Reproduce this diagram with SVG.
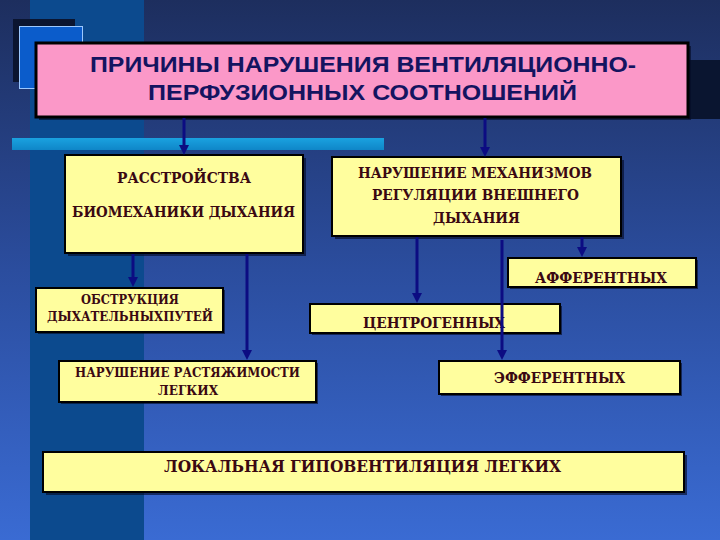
<svg xmlns="http://www.w3.org/2000/svg" width="720" height="540" viewBox="0 0 720 540">
<defs>
<linearGradient id="bg" x1="0" y1="0" x2="0" y2="1">
<stop offset="0" stop-color="#1d2e5e"/>
<stop offset="0.5" stop-color="#2b4d9e"/>
<stop offset="1" stop-color="#3a6bd3"/>
</linearGradient>
<linearGradient id="bar" x1="0" y1="0" x2="0" y2="1">
<stop offset="0" stop-color="#1aa2e0"/>
<stop offset="1" stop-color="#0f86c8"/>
</linearGradient>
<marker id="ah" viewBox="0 0 10 10" refX="2" refY="5" markerWidth="10" markerHeight="10" markerUnits="userSpaceOnUse" orient="auto">
<path d="M0,0 L10,5 L0,10 z" fill="#0c0c82"/>
</marker>
<style>
.ybox{fill:#fffe9e;stroke:#000;stroke-width:2}
.shadow{fill:#050c28;opacity:0.65}
.t{font-family:'DejaVu Serif',serif;font-weight:bold;fill:#3a0812}
.title{font-family:'Liberation Sans','DejaVu Sans',sans-serif;font-weight:bold;font-size:22px;fill:#141460}
.conn{stroke:#0c0c82;stroke-width:3;fill:none}
</style>
</defs>
<rect width="720" height="540" fill="url(#bg)"/>
<rect x="30" y="0" width="114" height="540" fill="#0c4a8e"/>
<rect x="688" y="60" width="32" height="59" fill="#0a1530"/>
<rect x="13" y="19" width="62" height="63" fill="#0b1530"/>
<rect x="19.5" y="26.5" width="63" height="62" fill="#0b5ccb" stroke="#9cc8ff" stroke-width="1"/>
<rect x="12" y="138" width="372" height="12" fill="url(#bar)"/>

<g id="title">
<rect class="shadow" x="39" y="46" width="652" height="74"/>
<rect x="36" y="43" width="652" height="74" fill="#fb98c8" stroke="#000" stroke-width="3"/>
<text class="title" x="90" y="72" textLength="546" lengthAdjust="spacingAndGlyphs">ПРИЧИНЫ  НАРУШЕНИЯ ВЕНТИЛЯЦИОННО-</text>
<text class="title" x="148" y="100" textLength="429" lengthAdjust="spacingAndGlyphs">ПЕРФУЗИОННЫХ  СООТНОШЕНИЙ</text>
</g>

<g id="biomech">
<rect class="shadow" x="68" y="158" width="238" height="98"/>
<rect class="ybox" x="65" y="155" width="238" height="98" stroke-width="3"/>
<text class="t" font-size="15" x="117" y="183" textLength="134" lengthAdjust="spacingAndGlyphs">РАССТРОЙСТВА</text>
<text class="t" font-size="15" x="72" y="217" textLength="223" lengthAdjust="spacingAndGlyphs">БИОМЕХАНИКИ ДЫХАНИЯ</text>
</g>

<g id="regulation">
<rect class="shadow" x="335" y="160" width="289" height="79"/>
<rect class="ybox" x="332" y="157" width="289" height="79"/>
<text class="t" font-size="15" x="358" y="178" textLength="234" lengthAdjust="spacingAndGlyphs">НАРУШЕНИЕ МЕХАНИЗМОВ</text>
<text class="t" font-size="15" x="372" y="200" textLength="207" lengthAdjust="spacingAndGlyphs">РЕГУЛЯЦИИ  ВНЕШНЕГО</text>
<text class="t" font-size="15" x="433" y="223" textLength="87" lengthAdjust="spacingAndGlyphs">ДЫХАНИЯ</text>
</g>

<g id="afferent">
<rect class="shadow" x="510" y="260" width="188" height="29"/>
<rect class="ybox" x="508" y="258" width="188" height="29"/>
<text class="t" font-size="15" x="535" y="283" textLength="132" lengthAdjust="spacingAndGlyphs">АФФЕРЕНТНЫХ</text>
</g>

<g id="centrogenic">
<rect class="shadow" x="312" y="306" width="250" height="29"/>
<rect class="ybox" x="310" y="304" width="250" height="29"/>
<text class="t" font-size="15" x="363" y="328" textLength="142" lengthAdjust="spacingAndGlyphs">ЦЕНТРОГЕННЫХ</text>
</g>

<g id="obstruction">
<rect class="shadow" x="38" y="290" width="187" height="44"/>
<rect class="ybox" x="36" y="288" width="187" height="44"/>
<text class="t" font-size="13.5" x="81" y="304" textLength="98" lengthAdjust="spacingAndGlyphs">ОБСТРУКЦИЯ</text>
<text class="t" font-size="13.5" x="47" y="321" textLength="166" lengthAdjust="spacingAndGlyphs">ДЫХАТЕЛЬНЫХПУТЕЙ</text>
</g>

<g id="compliance">
<rect class="shadow" x="61" y="363" width="257" height="41"/>
<rect class="ybox" x="59" y="361" width="257" height="41"/>
<text class="t" font-size="13.5" x="75" y="377" textLength="225" lengthAdjust="spacingAndGlyphs">НАРУШЕНИЕ РАСТЯЖИМОСТИ</text>
<text class="t" font-size="13.5" x="158" y="395" textLength="60" lengthAdjust="spacingAndGlyphs">ЛЕГКИХ</text>
</g>

<g id="efferent">
<rect class="shadow" x="441" y="363" width="241" height="33"/>
<rect class="ybox" x="439" y="361" width="241" height="33"/>
<text class="t" font-size="15" x="494" y="383" textLength="131" lengthAdjust="spacingAndGlyphs">ЭФФЕРЕНТНЫХ</text>
</g>

<g id="hypoventilation">
<rect class="shadow" x="46" y="455" width="641" height="40"/>
<rect class="ybox" x="43" y="452" width="641" height="40" stroke-width="3"/>
<text class="t" font-size="16" x="164" y="472" textLength="397" lengthAdjust="spacingAndGlyphs">ЛОКАЛЬНАЯ  ГИПОВЕНТИЛЯЦИЯ  ЛЕГКИХ</text>
</g>

<g id="connectors">
<line class="conn" x1="184" y1="118" x2="184" y2="147" marker-end="url(#ah)"/>
<line class="conn" x1="485" y1="118" x2="485" y2="149" marker-end="url(#ah)"/>
<line class="conn" x1="133" y1="254" x2="133" y2="279" marker-end="url(#ah)"/>
<line class="conn" x1="247" y1="254" x2="247" y2="352" marker-end="url(#ah)"/>
<line class="conn" x1="417" y1="237" x2="417" y2="295" marker-end="url(#ah)"/>
<line class="conn" x1="502" y1="240" x2="502" y2="352" marker-end="url(#ah)"/>
<line class="conn" x1="582" y1="237" x2="582" y2="249" marker-end="url(#ah)"/>
</g>
</svg>
